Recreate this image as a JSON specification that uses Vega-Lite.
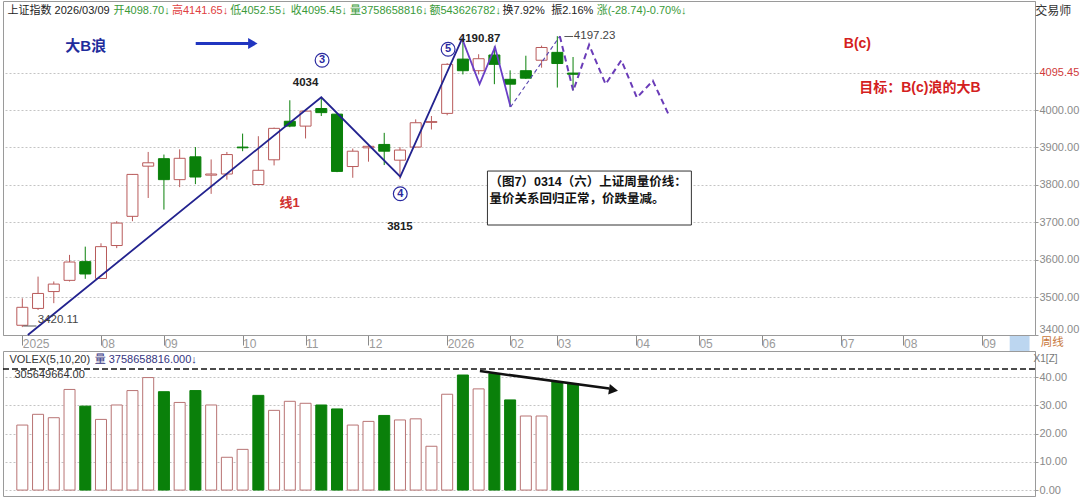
{
  "$schema": "https://vega.github.io/schema/vega-lite/v6.json",
  "background": "white",
  "padding": {"left": 1, "top": 0, "right": 0, "bottom": 0},
  "autosize": {"type": "pad"},
  "config": {
    "view": {"stroke": "#9a9a9a"},
    "font": "Liberation Sans, Noto Sans CJK SC",
    "axis": {"title": null, "labelFont": "Liberation Sans", "labelOverlap": false},
    "text": {"font": "Liberation Sans, Noto Sans CJK SC"}
  },
  "datasets": {
    "k": [
      {"i": 1, "o": 3425, "h": 3497, "l": 3420.11, "c": 3473, "v": 23.0},
      {"i": 2, "o": 3470, "h": 3555, "l": 3466, "c": 3510, "v": 26.8},
      {"i": 3, "o": 3515, "h": 3542, "l": 3484, "c": 3535, "v": 25.6},
      {"i": 4, "o": 3545, "h": 3613, "l": 3542, "c": 3594, "v": 35.6},
      {"i": 5, "o": 3595, "h": 3635, "l": 3549, "c": 3562, "v": 29.7},
      {"i": 6, "o": 3550, "h": 3644, "l": 3549, "c": 3635, "v": 25.0},
      {"i": 7, "o": 3638, "h": 3703, "l": 3631, "c": 3698, "v": 30.1},
      {"i": 8, "o": 3716, "h": 3829, "l": 3703, "c": 3828, "v": 35.2},
      {"i": 9, "o": 3850, "h": 3888, "l": 3765, "c": 3859, "v": 39.8},
      {"i": 10, "o": 3870, "h": 3881, "l": 3734, "c": 3814, "v": 34.8},
      {"i": 11, "o": 3814, "h": 3895, "l": 3794, "c": 3871, "v": 31.0},
      {"i": 12, "o": 3875, "h": 3901, "l": 3802, "c": 3821, "v": 35.2},
      {"i": 13, "o": 3826, "h": 3868, "l": 3776, "c": 3829, "v": 30.1},
      {"i": 14, "o": 3829, "h": 3888, "l": 3814, "c": 3881, "v": 11.6},
      {"i": 15, "o": 3901, "h": 3937, "l": 3890, "c": 3899, "v": 14.4},
      {"i": 16, "o": 3801, "h": 3930, "l": 3800, "c": 3839, "v": 33.5},
      {"i": 17, "o": 3867, "h": 3953, "l": 3852, "c": 3951, "v": 28.2},
      {"i": 18, "o": 3970, "h": 4026, "l": 3954, "c": 3957, "v": 31.4},
      {"i": 19, "o": 3957, "h": 4002, "l": 3924, "c": 3997, "v": 30.7},
      {"i": 20, "o": 4004, "h": 4034, "l": 3984, "c": 3993, "v": 30.1},
      {"i": 21, "o": 3989, "h": 3992, "l": 3834, "c": 3836, "v": 28.7},
      {"i": 22, "o": 3849, "h": 3897, "l": 3819, "c": 3890, "v": 23.0},
      {"i": 23, "o": 3899, "h": 3908, "l": 3862, "c": 3903, "v": 24.3},
      {"i": 24, "o": 3908, "h": 3939, "l": 3853, "c": 3890, "v": 26.4},
      {"i": 25, "o": 3866, "h": 3901, "l": 3815, "c": 3893, "v": 24.8},
      {"i": 26, "o": 3901, "h": 3975, "l": 3899, "c": 3966, "v": 25.2},
      {"i": 27, "o": 3967, "h": 3984, "l": 3948, "c": 3969, "v": 15.5},
      {"i": 28, "o": 3991, "h": 4125, "l": 3986, "c": 4122, "v": 33.9},
      {"i": 29, "o": 4136, "h": 4190.87, "l": 4095, "c": 4105, "v": 40.7},
      {"i": 30, "o": 4105, "h": 4149, "l": 4095, "c": 4137, "v": 35.8},
      {"i": 31, "o": 4147, "h": 4170, "l": 4069, "c": 4122, "v": 41.2},
      {"i": 32, "o": 4082, "h": 4106, "l": 4008, "c": 4069, "v": 31.9},
      {"i": 33, "o": 4105, "h": 4145, "l": 4083, "c": 4085, "v": 26.2},
      {"i": 34, "o": 4133, "h": 4172, "l": 4113, "c": 4167, "v": 26.2},
      {"i": 35, "o": 4154, "h": 4197.23, "l": 4060, "c": 4124.19, "v": 38.4},
      {"i": 36, "o": 4098.70, "h": 4141.65, "l": 4052.55, "c": 4095.45, "v": 37.6}
    ],
    "w": [
      {"i": 1.35, "v": 3399, "s": "n"}, {"i": 20, "v": 4034, "s": "n"}, {"i": 25.02, "v": 3822, "s": "n"}, {"i": 28.95, "v": 4190.87, "s": "n"},
      {"i": 28.95, "v": 4190.87, "s": "p"}, {"i": 30.06, "v": 4069, "s": "p"}, {"i": 31.04, "v": 4168, "s": "p"}, {"i": 32.03, "v": 4008, "s": "p"},
      {"i": 32.03, "v": 4008, "s": "d1"}, {"i": 35.16, "v": 4197.23, "s": "d1"},
      {"i": 35.16, "v": 4197.23, "s": "d2"}, {"i": 36.01, "v": 4051, "s": "d2"}, {"i": 37.02, "v": 4174, "s": "d2"}, {"i": 38.07, "v": 4069, "s": "d2"},
      {"i": 39.07, "v": 4133, "s": "d2"}, {"i": 40.06, "v": 4033, "s": "d2"}, {"i": 41.07, "v": 4078, "s": "d2"}, {"i": 42.05, "v": 3990, "s": "d2"}
    ],
    "one": [{}]
  },
  "resolve": {"scale": {"x": "independent", "y": "independent"}},
  "bounds": "flush",
  "spacing": 16,
  "vconcat": [
    {
      "width": 1032,
      "height": 334,
      "data": {"name": "k"},
      "layer": [
        {
          "mark": {"type": "rule", "strokeWidth": 1},
          "encoding": {
            "x": {"field": "i", "type": "quantitative", "scale": {"domain": [0.09, 65.04], "nice": false, "zero": false},
              "axis": {"orient": "bottom", "values": [1, 6, 10, 15, 19, 23, 28, 32, 35, 40, 44, 48, 53, 57, 62],
                "labelExpr": "['2025','08','09','10','11','12','2026','02','03','04','05','06','07','08','09'][indexof([1,6,10,15,19,23,28,32,35,40,44,48,53,57,62], datum.value)]",
                "labelAlign": "left", "labelDx": 1, "labelBaseline": "middle", "tickSize": 10, "labelPadding": -2,
                "labelColor": "#9a9a9a", "labelFontSize": 12, "tickColor": "#8a8a8a", "domainColor": "#9a9a9a",
                "grid": false, "labelFlush": false, "labelOverlap": false}},
            "y": {"field": "l", "type": "quantitative", "scale": {"domain": [3399, 4291.2], "nice": false, "zero": false},
              "axis": {"orient": "right", "values": [3400, 3500, 3600, 3700, 3800, 3900, 4000, 4100],
                "labelExpr": "datum.value == 4100 ? '4095.45' : format(datum.value, '.2f')",
                "labelColor": {"condition": {"test": "datum.value == 4100", "value": "#d03a3a"}, "value": "#8a8a8a"},
                "labelBaseline": {"condition": {"test": "datum.value == 3400", "value": "bottom"}, "value": "middle"},
                "labelFontSize": 11, "tickSize": 3, "tickColor": "#999", "labelPadding": 1, "domainColor": "#9a9a9a",
                "grid": true, "gridColor": "#c4c4c4", "gridDash": [2, 2], "labelFlush": false, "labelOverlap": false}},
            "y2": {"field": "h"},
            "color": {"condition": {"test": "datum.c >= datum.o", "value": "#b85a5a"}, "value": "#0a800a"}
          }
        },
        {
          "mark": {"type": "bar", "width": 11, "strokeWidth": 1},
          "encoding": {
            "x": {"field": "i", "type": "quantitative"},
            "y": {"field": "o", "type": "quantitative"},
            "y2": {"field": "c"},
            "fill": {"condition": {"test": "datum.c >= datum.o", "value": "white"}, "value": "#0a800a"},
            "stroke": {"condition": {"test": "datum.c >= datum.o", "value": "#b85a5a"}, "value": "#0a800a"}
          }
        },
        {
          "data": {"name": "w"}, "transform": [{"filter": "datum.s == 'n'"}],
          "mark": {"type": "line", "color": "#23238f", "strokeWidth": 1.8},
          "encoding": {"x": {"field": "i", "type": "quantitative"}, "y": {"field": "v", "type": "quantitative"}}
        },
        {
          "data": {"name": "w"}, "transform": [{"filter": "datum.s == 'p'"}],
          "mark": {"type": "line", "color": "#6a3fc6", "strokeWidth": 1.8},
          "encoding": {"x": {"field": "i", "type": "quantitative"}, "y": {"field": "v", "type": "quantitative"}}
        },
        {
          "data": {"name": "w"}, "transform": [{"filter": "datum.s == 'd1'"}],
          "mark": {"type": "line", "color": "#5a48b0", "strokeWidth": 1.2, "strokeDash": [4, 3]},
          "encoding": {"x": {"field": "i", "type": "quantitative"}, "y": {"field": "v", "type": "quantitative"}}
        },
        {
          "data": {"name": "w"}, "transform": [{"filter": "datum.s == 'd2'"}],
          "mark": {"type": "line", "color": "#6a3cb8", "strokeWidth": 2, "strokeDash": [6, 4]},
          "encoding": {"x": {"field": "i", "type": "quantitative"}, "y": {"field": "v", "type": "quantitative"}}
        },
        {
          "data": {"name": "one"},
          "mark": {"type": "rule", "color": "#2035c0", "strokeWidth": 3},
          "encoding": {"x": {"datum": 12.02}, "x2": {"datum": 15.4}, "y": {"datum": 4177.7}}
        },
        {
          "data": {"name": "one"},
          "mark": {"type": "point", "shape": "triangle-right", "filled": true, "color": "#2035c0", "size": 120, "opacity": 1},
          "encoding": {"x": {"datum": 15.65}, "y": {"datum": 4177.7}}
        },
        {
          "data": {"name": "one"},
          "mark": {"type": "text", "text": "大B浪", "fontSize": 15, "fontWeight": "bold", "color": "#1e2c9c"},
          "encoding": {"x": {"datum": 5.03}, "y": {"datum": 4171}}
        },
        {
          "data": {"name": "one"},
          "mark": {"type": "point", "shape": "circle", "filled": true, "fill": "white", "stroke": "#2a2aa0", "strokeWidth": 1.2, "size": 190, "opacity": 1},
          "encoding": {"x": {"datum": 20.05}, "y": {"datum": 4132.8}}
        },
        {
          "data": {"name": "one"},
          "mark": {"type": "text", "text": "3", "fontSize": 11, "fontWeight": "bold", "color": "#2a2aa0"},
          "encoding": {"x": {"datum": 20.05}, "y": {"datum": 4132.8}}
        },
        {
          "data": {"name": "one"},
          "mark": {"type": "point", "shape": "circle", "filled": true, "fill": "white", "stroke": "#2a2aa0", "strokeWidth": 1.2, "size": 190, "opacity": 1},
          "encoding": {"x": {"datum": 25.02}, "y": {"datum": 3776.4}}
        },
        {
          "data": {"name": "one"},
          "mark": {"type": "text", "text": "4", "fontSize": 11, "fontWeight": "bold", "color": "#2a2aa0"},
          "encoding": {"x": {"datum": 25.02}, "y": {"datum": 3776.4}}
        },
        {
          "data": {"name": "one"},
          "mark": {"type": "point", "shape": "circle", "filled": true, "fill": "white", "stroke": "#2a2aa0", "strokeWidth": 1.2, "size": 190, "opacity": 1},
          "encoding": {"x": {"datum": 28.06}, "y": {"datum": 4162.2}}
        },
        {
          "data": {"name": "one"},
          "mark": {"type": "text", "text": "5", "fontSize": 11, "fontWeight": "bold", "color": "#2a2aa0"},
          "encoding": {"x": {"datum": 28.06}, "y": {"datum": 4162.2}}
        },
        {
          "data": {"name": "one"},
          "mark": {"type": "text", "text": "4034", "fontSize": 11.5, "fontWeight": "bold", "color": "#222"},
          "encoding": {"x": {"datum": 19.0}, "y": {"datum": 4072.1}}
        },
        {
          "data": {"name": "one"},
          "mark": {"type": "text", "text": "线1", "fontSize": 13, "fontWeight": "bold", "color": "#d03030"},
          "encoding": {"x": {"datum": 17.99}, "y": {"datum": 3752.3}}
        },
        {
          "data": {"name": "one"},
          "mark": {"type": "text", "text": "3815", "fontSize": 11.5, "fontWeight": "bold", "color": "#222"},
          "encoding": {"x": {"datum": 25.0}, "y": {"datum": 3688.2}}
        },
        {
          "data": {"name": "one"},
          "mark": {"type": "text", "text": "4190.87", "fontSize": 11.5, "fontWeight": "bold", "color": "#222"},
          "encoding": {"x": {"datum": 30.06}, "y": {"datum": 4188.9}}
        },
        {
          "data": {"name": "one"},
          "mark": {"type": "rule", "color": "#555", "strokeWidth": 1},
          "encoding": {"x": {"datum": 35.45}, "x2": {"datum": 36.0}, "y": {"datum": 4196.4}}
        },
        {
          "data": {"name": "one"},
          "mark": {"type": "text", "text": "4197.23", "fontSize": 11.5, "color": "#444", "align": "left"},
          "encoding": {"x": {"datum": 36.05}, "y": {"datum": 4196.4}}
        },
        {
          "data": {"name": "one"},
          "mark": {"type": "rule", "color": "#555", "strokeWidth": 1},
          "encoding": {"x": {"datum": 1.05}, "x2": {"datum": 1.9}, "y": {"datum": 3423}}
        },
        {
          "data": {"name": "one"},
          "mark": {"type": "text", "text": "3420.11", "fontSize": 11.5, "color": "#444", "align": "left"},
          "encoding": {"x": {"datum": 1.98}, "y": {"datum": 3439}}
        },
        {
          "data": {"name": "one"},
          "mark": {"type": "rect", "fill": "white", "stroke": "#333", "strokeWidth": 1},
          "encoding": {"x": {"datum": 30.56}, "x2": {"datum": 43.52}, "y": {"datum": 3837}, "y2": {"datum": 3692.8}}
        },
        {
          "data": {"name": "one"},
          "mark": {"type": "text", "text": "（图7）0314（六）上证周量价线：", "fontSize": 12.5, "fontWeight": "bold", "color": "#111", "align": "left"},
          "encoding": {"x": {"datum": 30.69}, "y": {"datum": 3808.5}}
        },
        {
          "data": {"name": "one"},
          "mark": {"type": "text", "text": "量价关系回归正常，价跌量减。", "fontSize": 12.5, "fontWeight": "bold", "color": "#111", "align": "left"},
          "encoding": {"x": {"datum": 30.69}, "y": {"datum": 3761.4}}
        },
        {
          "data": {"name": "one"},
          "mark": {"type": "text", "text": "B(c)", "fontSize": 14, "fontWeight": "bold", "color": "#d42020"},
          "encoding": {"x": {"datum": 54.07}, "y": {"datum": 4177.1}}
        },
        {
          "data": {"name": "one"},
          "mark": {"type": "text", "text": "目标：B(c)浪的大B", "fontSize": 14, "fontWeight": "bold", "color": "#d42020"},
          "encoding": {"x": {"datum": 58.04}, "y": {"datum": 4058}}
        },
        {
          "data": {"name": "one"},
          "mark": {"type": "text", "text": "交易师", "fontSize": 12, "color": "#333"},
          "encoding": {"x": {"datum": 66.52}, "y": {"datum": 4264.5}}
        },
        {
          "data": {"name": "one"},
          "mark": {"type": "rect", "fill": "#bcd6f0"},
          "encoding": {"x": {"datum": 63.75}, "x2": {"datum": 65.01}, "y": {"datum": 3396.3}, "y2": {"datum": 3356.2}}
        },
        {
          "data": {"name": "one"},
          "mark": {"type": "text", "text": "周线", "fontSize": 11.5, "color": "#c8783c"},
          "encoding": {"x": {"datum": 66.45}, "y": {"datum": 3377.5}}
        },
        {
          "data": {"name": "one"},
          "mark": {"type": "text", "text": "上证指数 2026/03/09", "fontSize": 11, "color": "#222", "align": "left"},
          "encoding": {"x": {"datum": 0.06}, "y": {"datum": 4264.5}}
        },
        {
          "data": {"name": "one"},
          "mark": {"type": "text", "text": "开4098.70↓", "fontSize": 11, "color": "#3a9a3a", "align": "left"},
          "encoding": {"x": {"datum": 6.79}, "y": {"datum": 4264.5}}
        },
        {
          "data": {"name": "one"},
          "mark": {"type": "text", "text": "高4141.65↓", "fontSize": 11, "color": "#e04040", "align": "left"},
          "encoding": {"x": {"datum": 10.51}, "y": {"datum": 4264.5}}
        },
        {
          "data": {"name": "one"},
          "mark": {"type": "text", "text": "低4052.55↓", "fontSize": 11, "color": "#3a9a3a", "align": "left"},
          "encoding": {"x": {"datum": 14.22}, "y": {"datum": 4264.5}}
        },
        {
          "data": {"name": "one"},
          "mark": {"type": "text", "text": "收4095.45↓", "fontSize": 11, "color": "#3a9a3a", "align": "left"},
          "encoding": {"x": {"datum": 18.06}, "y": {"datum": 4264.5}}
        },
        {
          "data": {"name": "one"},
          "mark": {"type": "text", "text": "量3758658816↓", "fontSize": 11, "color": "#3a9a3a", "align": "left"},
          "encoding": {"x": {"datum": 21.83}, "y": {"datum": 4264.5}}
        },
        {
          "data": {"name": "one"},
          "mark": {"type": "text", "text": "额543626782↓", "fontSize": 11, "color": "#3a9a3a", "align": "left"},
          "encoding": {"x": {"datum": 26.87}, "y": {"datum": 4264.5}}
        },
        {
          "data": {"name": "one"},
          "mark": {"type": "text", "text": "换7.92%", "fontSize": 11, "color": "#222", "align": "left"},
          "encoding": {"x": {"datum": 31.52}, "y": {"datum": 4264.5}}
        },
        {
          "data": {"name": "one"},
          "mark": {"type": "text", "text": "振2.16%", "fontSize": 11, "color": "#222", "align": "left"},
          "encoding": {"x": {"datum": 34.61}, "y": {"datum": 4264.5}}
        },
        {
          "data": {"name": "one"},
          "mark": {"type": "text", "text": "涨(-28.74)-0.70%↓", "fontSize": 11, "color": "#3a9a3a", "align": "left"},
          "encoding": {"x": {"datum": 37.5}, "y": {"datum": 4264.5}}
        }
      ]
    },
    {
      "width": 1032,
      "height": 145,
      "data": {"name": "k"},
      "transform": [{"window": [{"op": "lag", "field": "c", "as": "pc"}], "sort": [{"field": "i"}]}],
      "layer": [
        {
          "mark": {"type": "bar", "width": 11, "strokeWidth": 1},
          "encoding": {
            "x": {"field": "i", "type": "quantitative", "scale": {"domain": [0.09, 65.04], "nice": false, "zero": false}, "axis": null},
            "y": {"field": "v", "type": "quantitative", "scale": {"domain": [-2.1, 49.2], "nice": false, "zero": false},
              "axis": {"orient": "right", "values": [0, 10, 20, 30, 40], "tickCount": 5, "format": ".2f", "labelColor": "#8a8a8a", "labelFontSize": 11,
                "tickSize": 3, "tickColor": "#999", "labelPadding": 1, "domainColor": "#9a9a9a",
                "grid": true, "gridColor": "#c4c4c4", "gridDash": [2, 2], "labelFlush": false, "labelOverlap": false}},
            "y2": {"datum": 0},
            "fill": {"condition": {"test": "datum.pc == null || datum.c >= datum.pc", "value": "white"}, "value": "#0a800a"},
            "stroke": {"condition": {"test": "datum.pc == null || datum.c >= datum.pc", "value": "#b87474"}, "value": "#0a800a"}
          }
        },
        {
          "data": {"name": "one"},
          "mark": {"type": "rule", "color": "#111", "strokeWidth": 1.5, "strokeDash": [6, 3]},
          "encoding": {"y": {"datum": 42.8, "type": "quantitative",
            "axis": {"orient": "right", "values": [0, 10, 20, 30, 40], "tickCount": 5, "format": ".2f", "labelColor": "#8a8a8a", "labelFontSize": 11,
                "tickSize": 3, "tickColor": "#999", "labelPadding": 1, "domainColor": "#9a9a9a",
                "grid": true, "gridColor": "#c4c4c4", "gridDash": [2, 2], "labelFlush": false, "labelOverlap": false}}}
        },
        {
          "data": {"name": "one"},
          "mark": {"type": "rule", "color": "#111", "strokeWidth": 2.5},
          "encoding": {"x": {"datum": 30.08}, "x2": {"datum": 38.3}, "y": {"datum": 42.1}, "y2": {"datum": 35.9}}
        },
        {
          "data": {"name": "one"},
          "mark": {"type": "point", "shape": "triangle-right", "filled": true, "color": "#111", "size": 110, "angle": 9, "opacity": 1},
          "encoding": {"x": {"datum": 38.57}, "y": {"datum": 35.4}}
        },
        {
          "data": {"name": "one"},
          "mark": {"type": "text", "text": "VOLEX(5,10,20)", "fontSize": 11, "color": "#333", "align": "left"},
          "encoding": {"x": {"datum": 0.18}, "y": {"datum": 46.0}}
        },
        {
          "data": {"name": "one"},
          "mark": {"type": "text", "text": "量 3758658816.000↓", "fontSize": 11, "color": "#343480", "align": "left"},
          "encoding": {"x": {"datum": 5.6}, "y": {"datum": 46.0}}
        },
        {
          "data": {"name": "one"},
          "mark": {"type": "text", "text": "305649664.00", "fontSize": 11, "color": "#333", "align": "left"},
          "encoding": {"x": {"datum": 0.5}, "y": {"datum": 40.7}}
        },
        {
          "data": {"name": "one"},
          "mark": {"type": "text", "text": "X1[Z]", "fontSize": 10, "color": "#777", "align": "left"},
          "encoding": {"x": {"datum": 65.27}, "y": {"datum": 46.3}}
        }
      ]
    }
  ]
}
